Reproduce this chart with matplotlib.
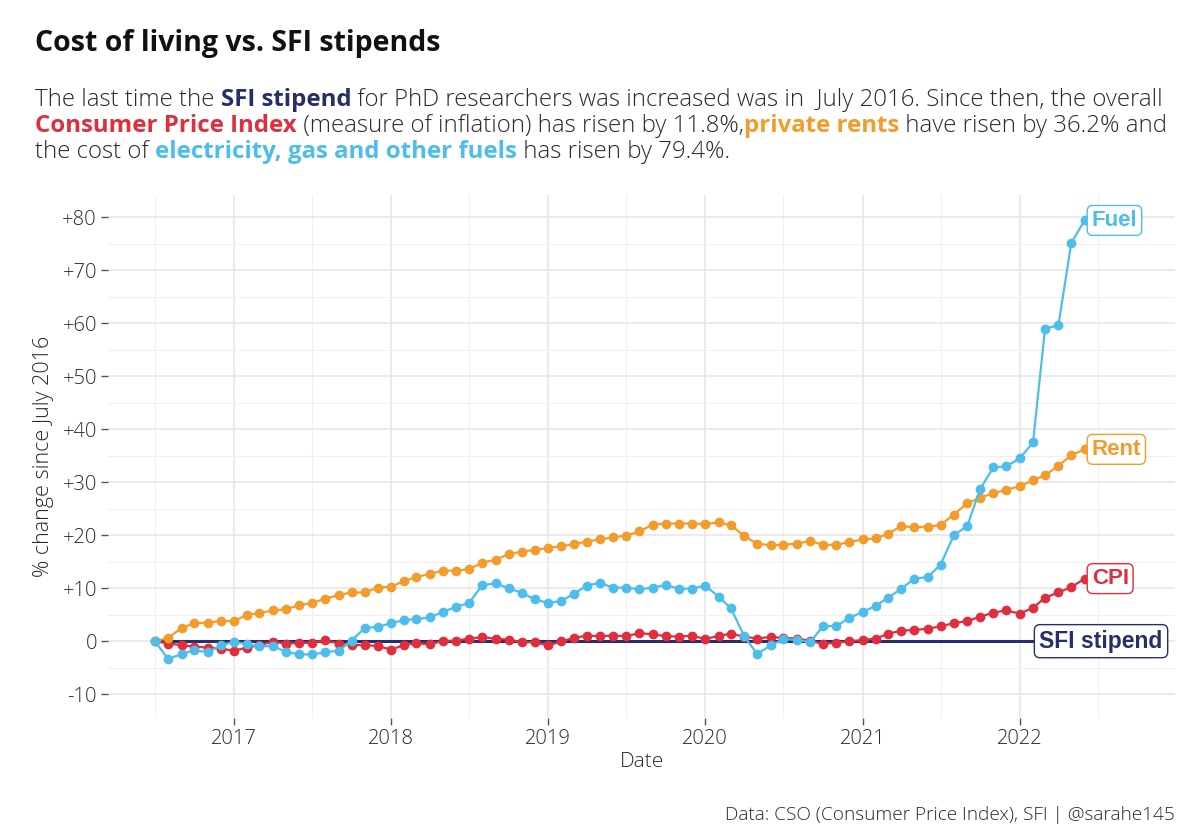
import matplotlib
matplotlib.use("Agg")
import matplotlib.pyplot as plt
import matplotlib.dates as mdates
from matplotlib.ticker import MultipleLocator, FuncFormatter
import pandas as pd

# monthly % change since July 2016 (Jul 2016 .. Jun 2022)
months = pd.date_range("2016-07-01", periods=72, freq="MS")

rent = [0, 0.6, 2.5, 3.4, 3.5, 3.8, 3.8, 5.0, 5.3, 5.8, 6.0, 6.8,
        7.2, 8.0, 8.7, 9.2, 9.2, 10.1, 10.3, 11.4, 12.1, 12.7, 13.3, 13.3,
        13.6, 14.8, 15.4, 16.4, 16.9, 17.2, 17.6, 17.9, 18.3, 18.8, 19.2, 19.6,
        19.9, 20.7, 22.0, 22.2, 22.2, 22.2, 22.1, 22.4, 21.9, 19.8, 18.4, 18.1,
        18.2, 18.4, 18.9, 18.2, 18.2, 18.7, 19.2, 19.4, 20.3, 21.7, 21.5, 21.6,
        21.9, 23.9, 26.0, 27.1, 27.9, 28.6, 29.2, 30.4, 31.3, 33.1, 35.1, 36.2]

fuel = [0, -3.4, -2.4, -1.7, -2.1, -0.8, -0.1, -0.6, -1.0, -0.9, -2.0, -2.5,
        -2.5, -2.1, -1.8, 0.1, 2.5, 2.7, 3.4, 4.0, 4.15, 4.5, 5.5, 6.5,
        7.2, 10.6, 10.9, 10.0, 9.1, 7.9, 7.2, 7.6, 8.9, 10.5, 11.0, 10.1,
        10.1, 9.8, 10.1, 10.6, 9.9, 9.9, 10.5, 8.4, 6.2, 0.9, -2.45, -0.8,
        0.35, 0.25, -0.2, 2.85, 2.85, 4.4, 5.5, 6.7, 8.2, 9.9, 11.8, 12.1,
        14.4, 20.0, 21.7, 28.7, 32.8, 33.0, 34.5, 37.5, 59.0, 59.6, 75.2, 79.4]

cpi = [0, -0.45, -0.75, -1.05, -1.2, -1.4, -1.8, -1.2, -0.75, -0.1, -0.45, -0.35,
       -0.3, 0.2, -0.45, -0.7, -0.75, -0.9, -1.6, -0.7, -0.4, -0.6, 0.05, 0.1,
       0.5, 0.75, 0.45, 0.3, -0.2, -0.2, -0.8, -0.05, 0.6, 1.05, 0.95, 1.05,
       0.95, 1.5, 1.3, 0.95, 0.85, 1.05, 0.4, 1.0, 1.4, 0.85, 0.5, 0.8,
       0.6, 0.5, 0.05, -0.5, -0.3, 0.0, 0.2, 0.5, 1.4, 2.0, 2.1, 2.35,
       2.8, 3.4, 3.8, 4.6, 5.4, 5.8, 5.2, 6.3, 8.2, 9.2, 10.2, 11.8]

stipend = [0] * 72

series_names = ["Fuel", "Rent", "CPI"]
series_vals = [fuel, rent, cpi]

C_RENT = "#F39C2C"
C_FUEL = "#4DBDEB"
C_CPI = "#DF2E3E"
C_SFI = "#262F6C"
TXT = "#2a2a2a"
LIGHT = 300
series_cols = [C_FUEL, C_RENT, C_CPI]

FONT = "Open Sans"
plt.rcParams["font.family"] = [FONT, "DejaVu Sans"]
LBL_FONT = ["Liberation Sans", "DejaVu Sans"]

fig = plt.figure(figsize=(12, 8.4), dpi=100)
ax = fig.add_axes([108 / 1200, 1 - 718 / 840, (1175 - 108) / 1200, (718 - 195) / 840])

ax.plot(months, stipend, color=C_SFI, lw=2.2, zorder=3)
for vals, col in zip([cpi, rent, fuel], [C_CPI, C_RENT, C_FUEL]):
    ax.plot(months, vals, color=col, lw=1.6, marker="o", ms=6, zorder=4)

ax.set_xlim(pd.Timestamp("2016-03-14"), pd.Timestamp("2022-12-28"))
ax.set_ylim(-14.5, 84.2)

ax.xaxis.set_major_locator(mdates.YearLocator())
ax.xaxis.set_minor_locator(mdates.MonthLocator(bymonth=7))
ax.xaxis.set_major_formatter(mdates.DateFormatter("%Y"))
ax.yaxis.set_major_locator(MultipleLocator(10))
ax.yaxis.set_minor_locator(MultipleLocator(5))
ax.yaxis.set_major_formatter(FuncFormatter(lambda v, p: f"+{v:.0f}" if v > 0 else f"{v:.0f}"))

ax.grid(which="major", color="#E6E6E6", lw=1.1)
ax.grid(which="minor", color="#F0F0F0", lw=0.8)
ax.set_axisbelow(True)
for s in ax.spines.values():
    s.set_visible(False)
ax.tick_params(which="major", length=5, width=1, color="#555555", labelsize=14.5,
               labelcolor=TXT, pad=3)
ax.tick_params(which="minor", length=0)
for lab in ax.get_xticklabels() + ax.get_yticklabels():
    lab.set_fontweight(LIGHT)

ax.set_xlabel("Date", fontsize=15, color=TXT, fontweight=LIGHT, labelpad=2)
ax.set_ylabel("% change since July 2016", fontsize=15.5, color=TXT, fontweight=LIGHT, labelpad=6)

# end labels
for name, vals, col in zip(series_names, series_vals, series_cols):
    ax.annotate(name, (months[-1], vals[-1]), xytext=(7, 0), textcoords="offset pixels",
                ha="left", va="center", fontsize=16, fontweight="bold", color=col,
                family=LBL_FONT, zorder=6,
                bbox=dict(boxstyle="round,pad=0.2,rounding_size=0.25", fc="white", ec=col, lw=1))
ax.annotate("SFI stipend", (months[-1], stipend[-1]), xytext=(78, 0), textcoords="offset pixels",
            ha="right", va="center", fontsize=16.5, fontweight="bold", color=C_SFI,
            family=LBL_FONT, zorder=6,
            bbox=dict(boxstyle="round,pad=0.22,rounding_size=0.25", fc="white", ec=C_SFI, lw=1))

fig.canvas.draw()
renderer = fig.canvas.get_renderer()
W = fig.bbox.width


def fit(t, target_px):
    w = t.get_window_extent(renderer).width
    t.set_fontsize(t.get_fontsize() * target_px / w)


# title and coloured subtitle
title = fig.text(35 / 1200, 1 - 44 / 840, "Cost of living vs. SFI stipends", fontsize=19,
                 fontweight="bold", color="#111111", va="center", ha="left")
fit(title, 405)

sub_lines = [
    [("The last time the ", TXT, LIGHT), ("SFI stipend", C_SFI, "bold"),
     (" for PhD researchers was increased was in  July 2016. Since then, the overall", TXT, LIGHT)],
    [("Consumer Price Index", C_CPI, "bold"),
     (" (measure of inflation) has risen by 11.8%,", TXT, LIGHT),
     ("private rents", C_RENT, "bold"), (" have risen by 36.2% and", TXT, LIGHT)],
    [("the cost of ", TXT, LIGHT), ("electricity, gas and other fuels", C_FUEL, "bold"),
     (" has risen by 79.4%.", TXT, LIGHT)],
]

# size the subtitle so the first line spans the same width as the original
fs = 16
tot = 0
for txt, col, wt in sub_lines[0]:
    t = fig.text(0, 0, txt, fontsize=fs, fontweight=wt)
    tot += t.get_window_extent(renderer).width
    t.remove()
fs = fs * (1168 - 35) / tot

for i, parts in enumerate(sub_lines):
    x = 35 / 1200
    y = 1 - (100 + 26 * i) / 840
    for txt, col, wt in parts:
        t = fig.text(x, y, txt, fontsize=fs, color=col, fontweight=wt, va="center", ha="left")
        x += t.get_window_extent(renderer).width / W

cap = fig.text(1175 / 1200, 1 - 815 / 840, "Data: CSO (Consumer Price Index), SFI | @sarahe145",
               fontsize=12, color=TXT, fontweight=LIGHT, ha="right", va="center")
fit(cap, 450)

fig.savefig("out.png", dpi=100, facecolor="white")
